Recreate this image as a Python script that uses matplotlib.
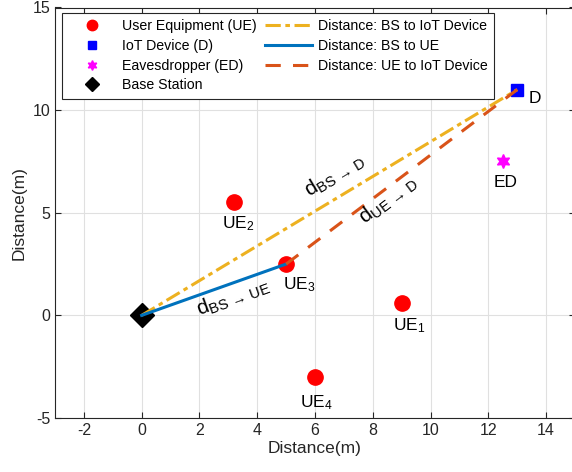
import matplotlib.pyplot as plt
import matplotlib as mpl

mpl.rcParams['font.family'] = ['Liberation Sans', 'DejaVu Sans']
mpl.rcParams['mathtext.fontset'] = 'custom'
mpl.rcParams['mathtext.rm'] = 'Liberation Sans'
mpl.rcParams['mathtext.it'] = 'Liberation Sans:italic'
mpl.rcParams['mathtext.bf'] = 'Liberation Sans:bold'
mpl.rcParams['axes.unicode_minus'] = False

# positions (m)
bs = (0, 0)
ue_x = [9, 3.2, 5, 6]
ue_y = [0.6, 5.5, 2.5, -3]
ue_names = ['UE$_1$', 'UE$_2$', 'UE$_3$', 'UE$_4$']
iot = (13, 11)
ed = (12.5, 7.5)
sel_ue = 2  # UE3 is the relay

c_blue = '#0072BD'
c_orange = '#D95319'
c_yellow = '#EDB120'
c_ax = '#262626'

fig = plt.figure(figsize=(5.72, 4.72), dpi=100)
ax = fig.add_axes([55 / 572, 54 / 472, 520 / 572, 410.5 / 472])

ax.plot(ue_x, ue_y, 'o', color='red', ms=11, ls='none')
ax.plot(iot[0], iot[1], 's', color='blue', ms=9)
ax.plot(ed[0], ed[1], marker=(6, 1, 0), color='magenta', ms=10, ls='none')
ax.plot(bs[0], bs[1], 'D', color='black', ms=12)

# smaller markers for the legend
h_ue, = ax.plot([], [], 'o', color='red', ms=7.5, ls='none', label='User Equipment (UE)')
h_d, = ax.plot([], [], 's', color='blue', ms=6, ls='none', label='IoT Device (D)')
h_ed, = ax.plot([], [], marker=(6, 1, 0), color='magenta', ms=7, ls='none',
                label='Eavesdropper (ED)')
h_bs, = ax.plot([], [], 'D', color='black', ms=7, ls='none', label='Base Station')

ux, uy = ue_x[sel_ue], ue_y[sel_ue]
h1, = ax.plot([bs[0], iot[0]], [bs[1], iot[1]], color=c_yellow, lw=2.2,
              dashes=[5, 1.5, 1.5, 1.5], label='Distance: BS to IoT Device')
h2, = ax.plot([bs[0], ux], [bs[1], uy], color=c_blue, lw=2.2, label='Distance: BS to UE')
h3, = ax.plot([ux, iot[0]], [uy, iot[1]], color=c_orange, lw=2.2, ls=(0, (5, 4)),
              label='Distance: UE to IoT Device')

# point labels
lab_off = [(0.25, -1.1), (0.15, -1.05), (0.45, -1.0), (0.05, -1.25)]
for x, y, n, (dx, dy) in zip(ue_x, ue_y, ue_names, lab_off):
    ax.text(x + dx, y + dy, n, fontsize=12.5, ha='center', va='center', color='black')
ax.text(iot[0] + 0.6, iot[1] - 0.45, 'D', fontsize=12.5, ha='center', va='center')
ax.text(ed[0] + 0.1, ed[1] - 1.05, 'ED', fontsize=12.5, ha='center', va='center')

ax.text(6.7, 6.85, r'$\mathrm{d}_{\mathrm{BS}\,\rightarrow\,\mathrm{D}}$', fontsize=15,
        rotation=31, ha='center', va='center')
ax.text(8.55, 5.65, r'$\mathrm{d}_{\mathrm{UE}\,\rightarrow\,\mathrm{D}}$', fontsize=15,
        rotation=37, ha='center', va='center')
ax.text(3.15, 0.85, r'$\mathrm{d}_{\mathrm{BS}\,\rightarrow\,\mathrm{UE}}$', fontsize=15,
        rotation=20, ha='center', va='center')

ax.set_xlim(-3, 15)
ax.set_ylim(-5, 15)
ax.set_xticks(range(-2, 15, 2))
ax.set_yticks(range(-5, 16, 5))
ax.grid(True, color='#e0e0e0', lw=0.8)
ax.set_axisbelow(True)
ax.tick_params(direction='in', top=True, right=True, labelsize=11.5, colors=c_ax, length=4)
for s in ax.spines.values():
    s.set_color(c_ax)
    s.set_linewidth(0.8)
ax.set_xlabel('Distance(m)', fontsize=12.5, color=c_ax, labelpad=2)
ax.set_ylabel('Distance(m)', fontsize=12.5, color=c_ax, labelpad=4)

leg = ax.legend(handles=[h_ue, h_d, h_ed, h_bs, h1, h2, h3], ncol=2, loc='upper left',
                bbox_to_anchor=(0.014, 0.987), fontsize=10.2, frameon=True, fancybox=False,
                edgecolor=c_ax, framealpha=1, borderpad=0.45, labelspacing=0.4,
                handlelength=3.3, columnspacing=0.6, handletextpad=0.45, borderaxespad=0)
leg.get_frame().set_linewidth(0.8)

fig.savefig('out.png', dpi=100)
